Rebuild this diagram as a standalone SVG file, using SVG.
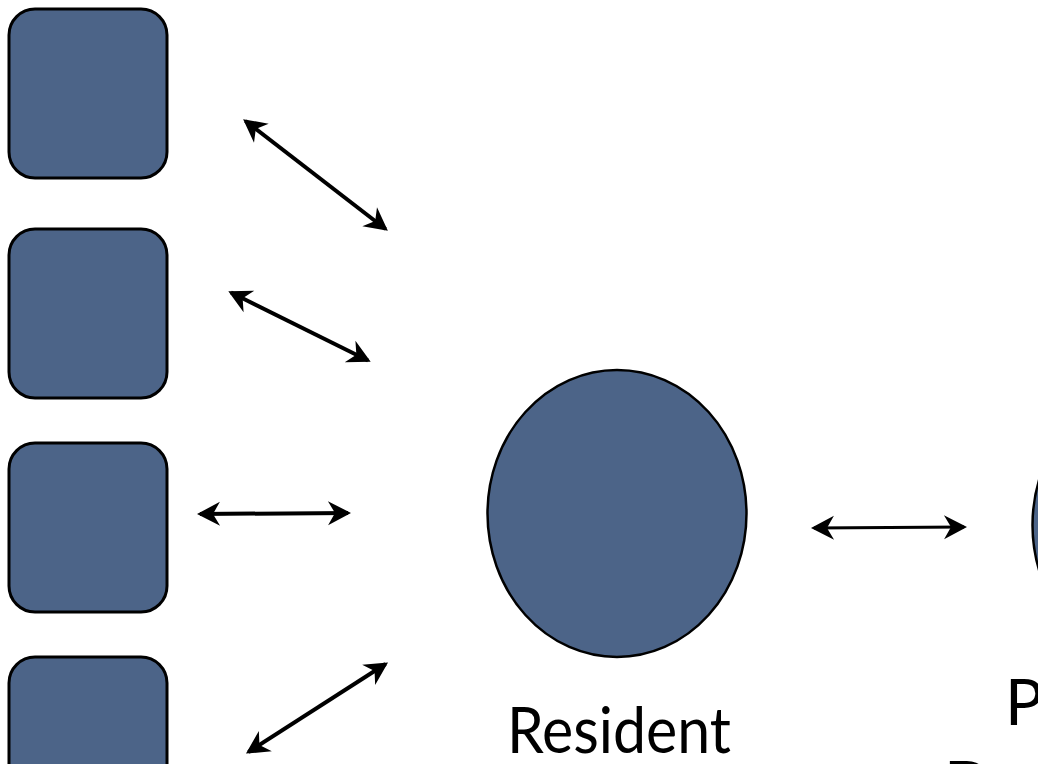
<svg xmlns="http://www.w3.org/2000/svg" width="1038" height="764" viewBox="0 0 1038 764">
  <style>
    .box { fill: #4c6488; stroke: #000; stroke-width: 3; }
    .oval { fill: #4c6488; stroke: #000; stroke-width: 2.5; }
    .conn { stroke: #000; fill: none; marker-start: url(#head); marker-end: url(#head); }
    .lbl { font-family: Lato, "Liberation Sans", sans-serif; font-size: 64px; fill: #000; }
  </style>
  <defs>
    <marker id="head" markerUnits="userSpaceOnUse" viewBox="-24 -13 28 26" markerWidth="28" markerHeight="26" refX="0" refY="0" orient="auto-start-reverse">
      <path d="M3,0 L-20,-12 L-13,0 L-20,12 Z" fill="#000"/>
    </marker>
  </defs>
  <rect width="1038" height="764" fill="#fff"/>
  <g id="box1"><rect class="box" x="9" y="9" width="158" height="169" rx="26"/></g>
  <g id="box2"><rect class="box" x="9" y="229" width="158" height="169" rx="26"/></g>
  <g id="box3"><rect class="box" x="9" y="443" width="158" height="169" rx="26"/></g>
  <g id="box4"><rect class="box" x="9" y="657" width="158" height="169" rx="26"/></g>
  <g id="resident">
    <ellipse class="oval" cx="617" cy="513.5" rx="129.5" ry="143.5"/>
    <text class="lbl" x="507" y="753" textLength="224" lengthAdjust="spacingAndGlyphs">Resident</text>
  </g>
  <g id="right-node">
    <ellipse class="oval" cx="1162" cy="525" rx="129.5" ry="143.5"/>
    <text class="lbl" x="1005" y="725">P</text>
    <text class="lbl" x="944" y="807">D</text>
  </g>
  <g id="connectors">
    <line class="conn" stroke-width="4" x1="245.5" y1="121" x2="385.5" y2="229"/>
    <line class="conn" stroke-width="4" x1="231" y1="292.5" x2="368" y2="360.5"/>
    <line class="conn" stroke-width="4" x1="200" y1="514" x2="348" y2="513"/>
    <line class="conn" stroke-width="4" x1="248.5" y1="752" x2="385.5" y2="664"/>
    <line class="conn" stroke-width="3" x1="814" y1="528" x2="964" y2="527"/>
  </g>
</svg>
